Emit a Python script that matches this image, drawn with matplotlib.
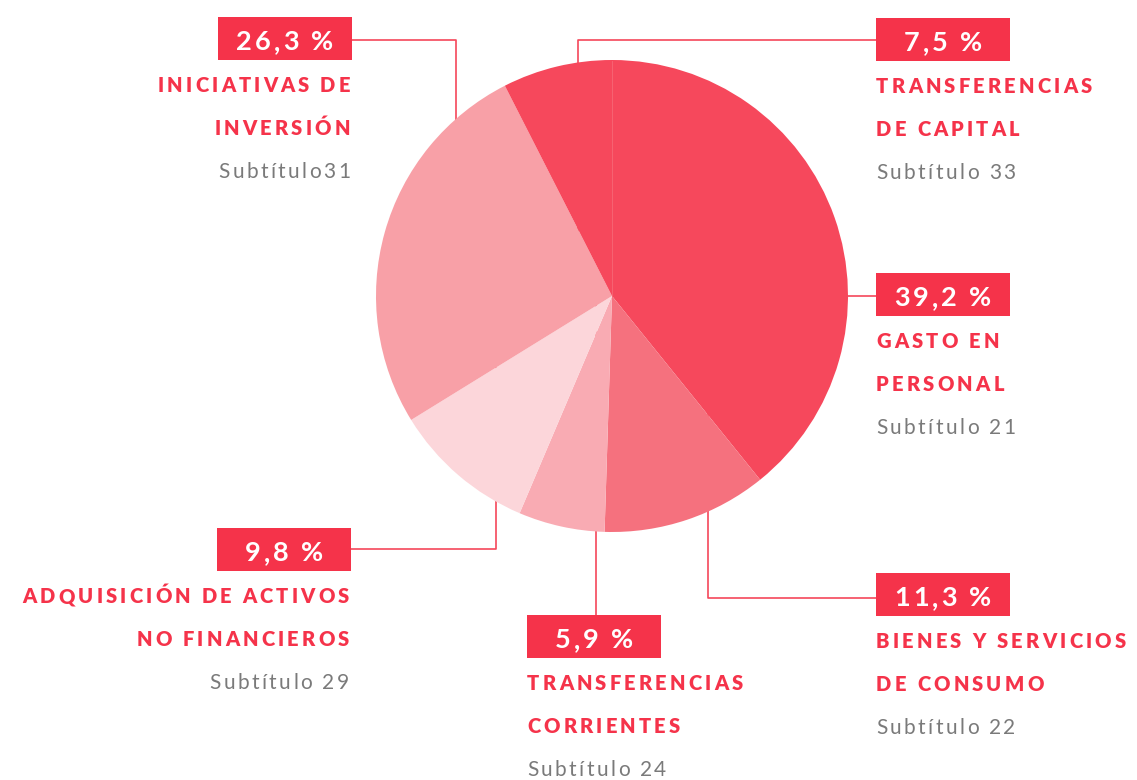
import matplotlib
matplotlib.use('Agg')
import matplotlib.pyplot as plt
from matplotlib.font_manager import FontProperties
from matplotlib.patches import Rectangle

W, H = 1137, 780

# data, clockwise from the top
values = [39.2, 11.3, 5.9, 9.8, 26.3, 7.5]
pct_labels = ['39,2 %', '11,3 %', '5,9 %', '9,8 %', '26,3 %', '7,5 %']
titles = [['GASTO EN', 'PERSONAL'],
          ['BIENES Y SERVICIOS', 'DE CONSUMO'],
          ['TRANSFERENCIAS', 'CORRIENTES'],
          ['ADQUISICIÓN DE ACTIVOS', 'NO FINANCIEROS'],
          ['INICIATIVAS DE', 'INVERSIÓN'],
          ['TRANSFERENCIAS', 'DE CAPITAL']]
subtitles = ['Subtítulo 21', 'Subtítulo 22', 'Subtítulo 24',
             'Subtítulo 29', 'Subtítulo31', 'Subtítulo 33']
colors = ['#F6485C', '#F5717E', '#F9ABB3', '#FCD6DA', '#F8A0A7', '#F6485C']

# layout (pixels, y down)
cx, cy, r = 612, 296, 236
box_w, box_h = 134, 43
boxes = [(876, 273, 'left'), (876, 573, 'left'), (527, 615, 'left'),
         (217, 528, 'right'), (218, 17, 'right'), (876, 18, 'left')]
# leader polylines, last point goes into the pie (hidden under it)
leaders = [[(876, 296), (cx, 296)],
           [(876, 598), (708, 598), (708, cy)],
           [(596, 615), (596, cy)],
           [(351, 549), (496, 549), (496, cy)],
           [(352, 40), (456, 40), (456, cy)],
           [(876, 40), (578, 40), (578, cy)]]

RED = '#F5334A'
LINE = '#F5475A'
GREY = '#7a7a7a'

fig = plt.figure(figsize=(W / 100, H / 100), dpi=100)
ax = fig.add_axes([0, 0, 1, 1])

for pts in leaders:
    xs = [p[0] for p in pts]
    ys = [p[1] for p in pts]
    ax.plot(xs, ys, color=LINE, lw=1.2, zorder=1, solid_capstyle='butt')

wedges, _ = ax.pie(values, colors=colors, startangle=-90, counterclock=True,
                   center=(cx, cy), radius=r,
                   wedgeprops=dict(linewidth=0, zorder=2))
# faint seam between the two same-coloured slices
ax.plot([cx, cx], [cy, cy - r + 1], color='#F76876', lw=0.6, zorder=3)

ax.set_xlim(0, W)
ax.set_ylim(H, 0)
ax.set_aspect('equal')
ax.axis('off')

renderer = fig.canvas.get_renderer()


def text_w(s, fp):
    w, h, d = renderer.get_text_width_height_descent(s, fp, ismath=False)
    return w


def char_w(ch, fp):
    return text_w('x' + ch + 'x', fp) - text_w('xx', fp)


def tracked(x, y, s, fp, color, track, ha='left'):
    widths = [char_w(ch, fp) for ch in s]
    total = sum(widths) + track * (len(s) - 1)
    if ha == 'right':
        x0 = x - total
    elif ha == 'center':
        x0 = x - total / 2
    else:
        x0 = x
    for ch, w in zip(s, widths):
        ax.text(x0, y, ch, fontproperties=fp, color=color,
                ha='left', va='baseline', zorder=5)
        x0 += w + track


fp_pct = FontProperties(family='Lato', weight='bold', size=19.5)
fp_title = FontProperties(family='Lato', weight='heavy', size=14.5)
fp_sub = FontProperties(family='Lato', weight='normal', size=15)

for i in range(len(values)):
    bx, by, side = boxes[i]
    ax.add_patch(Rectangle((bx, by), box_w, box_h, facecolor=RED,
                           edgecolor='none', zorder=4))
    tracked(bx + box_w / 2, by + 33, pct_labels[i], fp_pct, 'white', 3.0, 'center')
    ax_x = bx if side == 'left' else bx - 2 + box_w
    for k, line in enumerate(titles[i]):
        tracked(ax_x, by + 75 + 43 * k, line, fp_title, RED, 3.2, side)
    tracked(ax_x, by + 161, subtitles[i], fp_sub, GREY, 2.4, side)

fig.savefig('out.png', dpi=100, facecolor='white')
